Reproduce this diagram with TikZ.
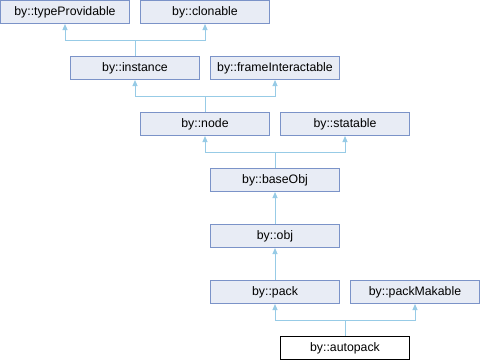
\documentclass[tikz,border=0pt]{standalone}
\usepackage{fontspec}
\setmainfont{Liberation Sans}
\usetikzlibrary{arrows.meta}
\definecolor{boxfill}{HTML}{E8ECF5}
\definecolor{boxdraw}{HTML}{7B93C8}
\definecolor{edgecol}{HTML}{97CBE6}
\tikzset{
  cls/.style={draw=boxdraw, fill=boxfill, line width=1bp, minimum width=129bp, minimum height=23bp, inner sep=0pt, font=\fontsize{12.3bp}{14bp}\selectfont},
  cur/.style={cls, draw=black, fill=white},
  edge/.style={draw=edgecol, line width=1bp, {Triangle[length=6bp,width=5bp]}-}
}
\begin{document}
\begin{tikzpicture}[x=1bp,y=-1bp]
\useasboundingbox (0,0) rectangle (480,360);
\node[cls] (tp) at (65,12) {by::typeProvidable};
\node[cls] (cl) at (205,12) {by::clonable};
\node[cls] (in) at (135,68) {by::instance};
\node[cls] (fi) at (275,68) {by::frameInteractable};
\node[cls] (no) at (205,124) {by::node};
\node[cls] (st) at (345,124) {by::statable};
\node[cls] (bo) at (275,180) {by::baseObj};
\node[cls] (ob) at (275,236) {by::obj};
\node[cls] (pa) at (275,292) {by::pack};
\node[cls] (pm) at (415,292) {by::packMakable};
\node[cur] (ap) at (345,348) {by::autopack};
\coordinate (j1) at (135,40);
\coordinate (j2) at (205,96.5);
\coordinate (j3) at (275,152);
\coordinate (j4) at (345,320);
\draw[edge] (tp.south) |- (j1) -- (in.north);
\draw[edge] (cl.south) |- (j1);
\draw[edge] (in.south) |- (j2) -- (no.north);
\draw[edge] (fi.south) |- (j2);
\draw[edge] (no.south) |- (j3) -- (bo.north);
\draw[edge] (st.south) |- (j3);
\draw[edge] (bo.south) -- (ob.north);
\draw[edge] (ob.south) -- (pa.north);
\draw[edge] (pa.south) |- (j4) -- (ap.north);
\draw[edge] (pm.south) |- (j4);
\end{tikzpicture}
\end{document}
